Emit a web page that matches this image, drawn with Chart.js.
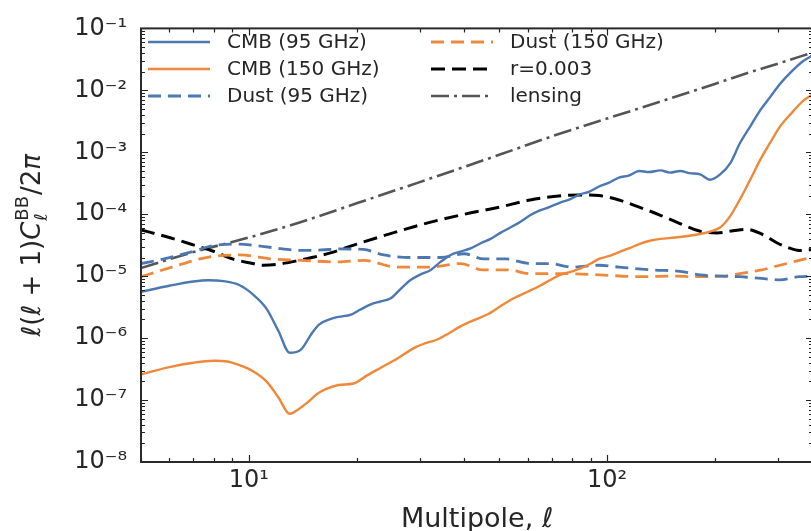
<!DOCTYPE html>
<html><head><meta charset="utf-8">
<script src="https://cdn.jsdelivr.net/npm/chart.js@4.4.1/dist/chart.umd.min.js"></script>
<style>html,body{margin:0;padding:0;background:#fff;overflow:hidden}#wrap{position:relative;width:830px;height:540px}</style>
</head><body><div id="wrap"><canvas id="c"></canvas></div>
<script>
// ---- data ----
const seriesLabels = ['CMB (95 GHz)', 'CMB (150 GHz)', 'Dust (95 GHz)', 'Dust (150 GHz)', 'r=0.003', 'lensing'];

const ellCmb95 = [5,6,7,7.7,8.5,9.4,10.3,11.2,12.1,13,14,15,15.7,16.8,17.8,19.3,20.5,21.9,23.3,24.9,26.5,28.3,30,32.2,34.3,36.6,39,41.6,44.4,47.3,50.4,53.7,57.2,61,65,69,74,79,84,89,95,101,108,115,123,131,141,150,160,170,182,194,207,221,235,251,268,285,304,330,354,376];
const valCmb95 = [5.6e-6,7.0e-6,8.2e-6,8.6e-6,8.3e-6,7.2e-6,5.0e-6,3.0e-6,1.3e-6,5.8e-7,6.6e-7,1.2e-6,1.65e-6,2.0e-6,2.2e-6,2.4e-6,2.9e-6,3.5e-6,3.9e-6,4.4e-6,6.2e-6,8.7e-6,1.05e-5,1.26e-5,1.7e-5,2.2e-5,2.5e-5,2.8e-5,3.4e-5,4.0e-5,5.0e-5,6.1e-5,7.5e-5,9.6e-5,1.15e-4,1.3e-4,1.54e-4,1.75e-4,2.1e-4,2.3e-4,2.8e-4,3.2e-4,3.9e-4,4.2e-4,5.0e-4,4.8e-4,5.1e-4,4.7e-4,5.0e-4,4.6e-4,4.4e-4,3.6e-4,4.4e-4,6.7e-4,1.4e-3,2.6e-3,4.8e-3,7.7e-3,1.27e-2,2.1e-2,3.0e-2,3.7e-2];

const ellCmb150 = [5,6,7,8,8.7,9.5,10.3,11.2,12.1,13,13.8,14.7,15.5,16.4,17.8,19.6,21.4,23.3,26,28.9,31.2,33.6,36.2,39,42.5,46.3,50.5,54.9,60,65,69,74,79,84,90,95,101,108,115,123,131,141,155,170,182,195,207,221,235,251,268,285,304,330,354,376];
const valCmb150 = [2.6e-7,3.4e-7,4.0e-7,4.3e-7,4.2e-7,3.6e-7,2.9e-7,2.0e-7,1.1e-7,6.0e-8,7.2e-8,9.5e-8,1.25e-7,1.5e-7,1.75e-7,1.85e-7,2.5e-7,3.3e-7,4.7e-7,6.9e-7,8.3e-7,9.5e-7,1.2e-6,1.55e-6,1.95e-6,2.4e-6,3.3e-6,4.4e-6,5.6e-6,7.0e-6,8.5e-6,1.05e-5,1.17e-5,1.32e-5,1.6e-5,1.9e-5,2.1e-5,2.45e-5,2.8e-5,3.3e-5,3.7e-5,4.0e-5,4.2e-5,4.5e-5,4.8e-5,5.3e-5,6.1e-5,9.4e-5,1.73e-4,3.6e-4,7.6e-4,1.4e-3,2.6e-3,4.5e-3,6.9e-3,8.6e-3];

const ellDust95 = [5,5.8,6.8,8.2,9.4,10.5,11.6,14,16,17.8,20.9,23.8,28.3,34.3,39.9,45.3,52,61,69,80,95,108,135,160,182,210,235,270,304,344,376];
const valDust95 = [1.6e-5,1.9e-5,2.4e-5,3.2e-5,3.3e-5,3.1e-5,2.9e-5,2.6e-5,2.65e-5,2.75e-5,2.7e-5,2.2e-5,2.0e-5,2.0e-5,2.3e-5,1.9e-5,1.9e-5,1.6e-5,1.6e-5,1.4e-5,1.5e-5,1.4e-5,1.26e-5,1.2e-5,1.05e-5,1.0e-5,9.8e-6,9.2e-6,8.7e-6,9.8e-6,1.0e-5];

const ellDust150 = [5,6.1,7.6,9.4,11.6,14,17.8,21,25.9,32,39,45,53,61,74,95,123,150,182,210,235,268,304,344,376];
const valDust150 = [9.8e-6,1.4e-5,2.0e-5,2.2e-5,1.9e-5,1.8e-5,1.7e-5,1.8e-5,1.4e-5,1.4e-5,1.6e-5,1.26e-5,1.26e-5,1.1e-5,1.1e-5,1.05e-5,9.8e-6,1.0e-5,9.8e-6,1.0e-5,1.1e-5,1.25e-5,1.5e-5,1.8e-5,2.05e-5];

const ellR = [5,6,7,8,9,10,11,12,13.5,15,17,20,25,32,40,50,61,72,84,95,108,123,140,157,182,203,225,246,270,297,320,344,376];
const valR = [5.6e-5,4.2e-5,3.2e-5,2.5e-5,1.9e-5,1.65e-5,1.5e-5,1.55e-5,1.75e-5,2.0e-5,2.4e-5,3.3e-5,4.9e-5,7.4e-5,1.0e-4,1.3e-4,1.7e-4,1.95e-4,2.05e-4,2.0e-4,1.7e-4,1.3e-4,9.8e-5,7.4e-5,5.3e-5,5.0e-5,5.4e-5,5.7e-5,4.8e-5,3.5e-5,2.9e-5,2.6e-5,2.7e-5];

const ellLens = [5,7,10,14,20,30,50,70,100,150,200,250,300,376];
const valLens = [1.35e-5,2.45e-5,4.2e-5,7.5e-5,1.5e-4,3.3e-4,9.1e-4,1.8e-3,3.5e-3,7.4e-3,1.27e-2,1.95e-2,2.7e-2,4.1e-2];

const xTickValues = [10, 100];
const xTickLabels = ['10¹', '10²'];
const yTickValues = [1e-8, 1e-7, 1e-6, 1e-5, 1e-4, 1e-3, 1e-2, 1e-1];
const yTickLabels = ['10⁻⁸', '10⁻⁷', '10⁻⁶', '10⁻⁵', '10⁻⁴', '10⁻³', '10⁻²', '10⁻¹'];

// ---- helpers ----
const pts = (xs, ys) => xs.map((x, i) => ({x: x, y: ys[i]}));
const lookup = (vals, labels) => (v) => {
  for (let i = 0; i < vals.length; i++) {
    if (Math.abs(Math.log10(v) - Math.log10(vals[i])) < 1e-6) return labels[i];
  }
  return '';
};

const BLUE = '#4c78b2', ORANGE = '#f0883a', TEXT = '#262626';
Chart.defaults.font.family = '"DejaVu Sans", sans-serif';
Chart.defaults.color = TEXT;

const mk = (label, data, color, width, dash) => ({
  label: label, data: data, borderColor: color, backgroundColor: color,
  borderWidth: width, borderDash: dash, showLine: true, pointRadius: 0,
  cubicInterpolationMode: 'monotone', fill: false
});

// inward ticks + frame
const spinePlugin = {
  id: 'spines',
  afterDatasetsDraw(chart) {
    const {ctx, chartArea: ca, scales} = chart;
    const xs = scales.x, ys = scales.y;
    ctx.save();
    ctx.strokeStyle = '#222'; ctx.lineWidth = 1.2;
    ctx.beginPath();
    for (let e = 0; e <= 3; e++) for (let m = 1; m < 10; m++) {
      const v = m * Math.pow(10, e);
      if (v < xs.min - 1e-9 || v > xs.max) continue;
      const p = Math.round(xs.getPixelForValue(v)) + 0.5;
      const L = m === 1 ? 7 : 4;
      ctx.moveTo(p, ca.bottom); ctx.lineTo(p, ca.bottom - L);
      ctx.moveTo(p, ca.top); ctx.lineTo(p, ca.top + L);
    }
    for (let e = -8; e <= -1; e++) for (let m = 1; m < 10; m++) {
      const v = m * Math.pow(10, e);
      if (v > ys.max * 1.0000001) continue;
      const p = Math.round(ys.getPixelForValue(v)) + 0.5;
      const L = m === 1 ? 7 : 4;
      ctx.moveTo(ca.left, p); ctx.lineTo(ca.left + L, p);
      ctx.moveTo(ca.right, p); ctx.lineTo(ca.right - L, p);
    }
    ctx.stroke();
    ctx.lineWidth = 2; ctx.strokeStyle = '#2a2a2a';
    ctx.strokeRect(ca.left, ca.top, ca.right - ca.left, ca.bottom - ca.top);
    ctx.restore();
  }
};

// two-column legend
const legendPlugin = {
  id: 'colLegend',
  afterDraw(chart) {
    const ctx = chart.ctx, ds = chart.data.datasets;
    const colX = [148, 431], rowY = [42, 69, 96];
    ctx.save();
    ctx.font = '20px "DejaVu Sans"'; ctx.fillStyle = TEXT; ctx.textBaseline = 'middle';
    ds.forEach((d, i) => {
      const c = Math.floor(i / 3), r = i % 3;
      const x = colX[c], y = rowY[r];
      ctx.strokeStyle = d.borderColor; ctx.lineWidth = d.borderWidth;
      ctx.setLineDash(d.borderDash || []);
      ctx.beginPath(); ctx.moveTo(x, y); ctx.lineTo(x + 62, y); ctx.stroke();
      ctx.setLineDash([]);
      ctx.fillText(d.label, x + 79, y + 1);
    });
    ctx.restore();
  }
};

// y-axis title with super/subscripts
const yTitlePlugin = {
  id: 'yTitle',
  afterDraw(chart) {
    const ctx = chart.ctx, ca = chart.chartArea;
    const big = '26px "DejaVu Sans"', bigI = 'oblique 26px "DejaVu Sans"';
    const sm = '18px "DejaVu Sans"', smI = 'oblique 18px "DejaVu Sans"';
    const parts = [['ℓ', bigI], ['(', big], ['ℓ', bigI], [' + 1)', big], ['C', bigI],
                   ['SS', null], ['/2', big], ['π', bigI]];
    ctx.save();
    ctx.fillStyle = TEXT;
    let w = 0;
    const widths = parts.map(p => {
      if (p[0] === 'SS') { ctx.font = sm; return ctx.measureText('BB').width + 2; }
      ctx.font = p[1]; return ctx.measureText(p[0]).width;
    });
    widths.forEach(v => w += v);
    ctx.translate(40, (ca.top + ca.bottom) / 2);
    ctx.rotate(-Math.PI / 2);
    ctx.textBaseline = 'alphabetic';
    let x = -w / 2;
    parts.forEach((p, i) => {
      if (p[0] === 'SS') {
        ctx.font = sm; ctx.fillText('BB', x + 1, -12);
        ctx.font = smI; ctx.fillText('ℓ', x + 1, 7);
      } else { ctx.font = p[1]; ctx.fillText(p[0], x, 0); }
      x += widths[i];
    });
    ctx.restore();
  }
};

new Chart(document.getElementById('c'), {
  type: 'scatter',
  data: {
    datasets: [
      mk(seriesLabels[0], pts(ellCmb95, valCmb95), BLUE, 2.4, []),
      mk(seriesLabels[1], pts(ellCmb150, valCmb150), ORANGE, 2.4, []),
      mk(seriesLabels[2], pts(ellDust95, valDust95), BLUE, 2.8, [13, 7]),
      mk(seriesLabels[3], pts(ellDust150, valDust150), ORANGE, 2.8, [13, 7]),
      mk(seriesLabels[4], pts(ellR, valR), '#000000', 3, [14, 7]),
      mk(seriesLabels[5], pts(ellLens, valLens), '#555555', 2.6, [18, 5, 3, 5])
    ]
  },
  options: {
    responsive: true, maintainAspectRatio: false, animation: false,
    layout: {padding: {top: 24, right: 17, left: 0, bottom: 0}},
    plugins: {legend: {display: false}, tooltip: {enabled: false}},
    scales: {
      x: {
        type: 'logarithmic', position: 'bottom', min: 5, max: 376,
        afterFit: (s) => { s.height = 78; },
        grid: {display: false, drawTicks: false},
        border: {display: false},
        ticks: {autoSkip: false, maxRotation: 0, padding: 4, font: {size: 24}, color: TEXT,
                callback: lookup(xTickValues, xTickLabels)},
        title: {display: true, text: 'Multipole, ℓ', font: {size: 27}, color: TEXT, padding: {top: 0, bottom: 4}}
      },
      y: {
        type: 'logarithmic', position: 'left', min: 1e-8, max: 1e-1,
        afterFit: (s) => { s.width = 141; },
        grid: {display: false, drawTicks: false},
        border: {display: false},
        ticks: {autoSkip: false, padding: 14, font: {size: 24}, color: TEXT,
                callback: lookup(yTickValues, yTickLabels)},
        title: {display: false}
      }
    }
  },
  plugins: [spinePlugin, legendPlugin, yTitlePlugin]
});
</script>
</body></html>
